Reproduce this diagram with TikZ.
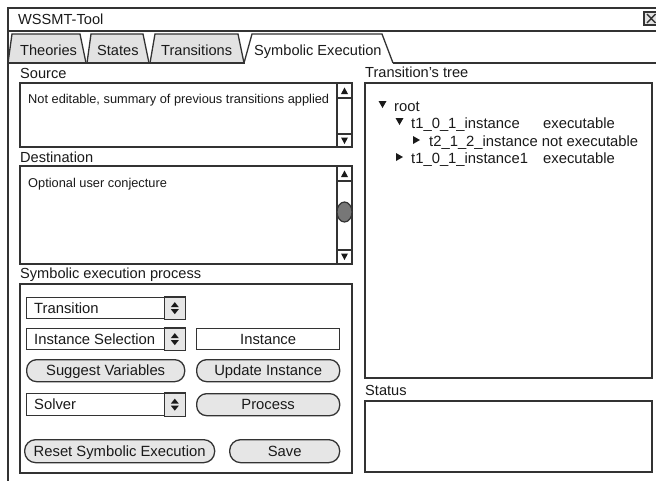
\documentclass[tikz,border=0pt]{standalone}
\usepackage{fontspec}
\setmainfont{Liberation Sans}
\definecolor{lc}{HTML}{333333}
\definecolor{tabgray}{HTML}{E2E2E2}
\definecolor{btngray}{HTML}{E6E6E6}
\definecolor{thumb}{HTML}{777777}
\definecolor{tc}{HTML}{1A1A1A}
\newcommand{\fsz}[1]{\fontsize{#1}{#1}\selectfont}
\begin{document}
\begin{tikzpicture}[x=1pt,y=-1pt,
  frame/.style={draw=lc,line width=1.6pt},
  box/.style={draw=lc,line width=1.4pt},
  lbl/.style={anchor=base west,inner sep=0pt,text=tc,font=\fsz{14.6}},
  smalltxt/.style={anchor=base west,inner sep=0pt,text=tc,font=\fsz{12.8}},
  treetxt/.style={anchor=base west,inner sep=0pt,text=tc,font=\fsz{14.8}},
  tabshape/.style={draw=lc,line width=1.3pt,fill=tabgray},
  btn/.style={draw=lc,line width=1.3pt,fill=btngray,rounded corners=10pt,inner sep=0pt,
     text height=10.6pt,text depth=0pt,text=tc,font=\fsz{14.8}},
  field/.style={draw=lc,line width=1.3pt,fill=white,inner sep=0pt,
     text height=10.6pt,text depth=0pt,text=tc,font=\fsz{14.8}},
  fieldtxt/.style={anchor=base west,inner sep=0pt,text=tc,font=\fsz{14.8}},
  tri/.style={fill=tc,draw=none}
]
\useasboundingbox (0,0) rectangle (656,480);
\fill[white] (0,0) rectangle (656,480);

% window frame and title bar
\draw[frame] (8,8) rectangle (672,31);
\draw[frame] (8,31) -- (8,492);
\node[lbl] (title) at (18,24.5) {WSSMT-Tool};
\draw[line width=1.2pt,draw=lc,fill=tabgray] (644,12) rectangle (662,25);
\draw[line width=1.4pt,draw=lc] (647,14) -- (655.5,23) (647,23) -- (655.5,14);

% tabs
\draw[tabshape] (8,63) -- (12,34) -- (80,34) -- (86,63);
\draw[tabshape] (87,63) -- (91,34) -- (143,34) -- (149,63);
\draw[tabshape] (150,63) -- (155,34) -- (238,34) -- (244,63);
\draw[draw=lc,line width=1.3pt] (244,63) -- (252,34) -- (382,34) -- (393,63);
\draw[frame] (8,63) -- (245,63) (393,63) -- (672,63);
\node[lbl] (tab1) at (20,55) {Theories};
\node[lbl] (tab2) at (97,55) {States};
\node[lbl] (tab3) at (161,55) {Transitions};
\node[lbl] (tab4) at (254,55) {Symbolic Execution};

% left column labels
\node[lbl] (srclbl) at (20,78) {Source};
\node[lbl] (dstlbl) at (20,162) {Destination};
\node[lbl] (proclbl) at (20,278) {Symbolic execution process};

% source box
\draw[box] (20,83) rectangle (352,147);
\draw[box] (337,83) -- (337,147);
\draw[box] (337,98) -- (352,98) (337,134) -- (352,134);
\fill[tri] (341,94) -- (348,94) -- (344.5,87.5) -- cycle;
\fill[tri] (341,137.5) -- (348,137.5) -- (344.5,144) -- cycle;
\node[smalltxt] (srctxt) at (28,103) {Not editable, summary of previous transitions applied};

% destination box
\draw[box] (20,166) rectangle (352,264);
\draw[box] (337,166) -- (337,264);
\draw[box] (337,181) -- (352,181) (337,250) -- (352,250);
\fill[tri] (341,177) -- (348,177) -- (344.5,170.5) -- cycle;
\fill[tri] (341,253.5) -- (348,253.5) -- (344.5,260) -- cycle;
\draw[line width=1.2pt,draw=lc,fill=thumb] (344.5,212) ellipse [x radius=7.5pt,y radius=10pt];
\node[smalltxt] (dsttxt) at (28,187) {Optional user conjecture};

% process box
\draw[box] (20,284) rectangle (352,473);

% combos
\node[field,minimum width=158pt,minimum height=21pt,anchor=north west] (cmbTrans) at (26,297) {};
\node[field,minimum width=158pt,minimum height=21pt,anchor=north west] (cmbInst) at (26,328) {};
\node[field,minimum width=158pt,minimum height=22pt,anchor=north west] (cmbSolv) at (26,393) {};
\node[fieldtxt] (cmbTransTxt) at (34,313) {Transition};
\node[fieldtxt] (cmbInstTxt) at (34,344) {Instance Selection};
\node[fieldtxt] (cmbSolvTxt) at (34,409) {Solver};
\foreach \n in {cmbTrans,cmbInst,cmbSolv}{
  \draw[line width=1.3pt,draw=lc,fill=btngray] ([xshift=-21pt]\n.north east) rectangle (\n.south east);
  \fill[tri] ([xshift=-14.5pt,yshift=-1pt]\n.center -| \n.east) -- ([xshift=-6.5pt,yshift=-1pt]\n.center -| \n.east) -- ([xshift=-10.5pt,yshift=-6pt]\n.center -| \n.east) -- cycle;
  \fill[tri] ([xshift=-14.5pt,yshift=1pt]\n.center -| \n.east) -- ([xshift=-6.5pt,yshift=1pt]\n.center -| \n.east) -- ([xshift=-10.5pt,yshift=6pt]\n.center -| \n.east) -- cycle;
}

% instance field
\node[field,minimum width=143pt,minimum height=21pt,anchor=north west] (instfield) at (196,328) {Instance};

% buttons
\node[btn,minimum width=158pt,minimum height=22pt,anchor=north west] (bSuggest) at (26,359) {Suggest Variables};
\node[btn,minimum width=143pt,minimum height=22pt,anchor=north west] (bUpdate) at (196,359) {Update Instance};
\node[btn,minimum width=143pt,minimum height=22pt,anchor=north west] (bProcess) at (196,393) {Process};
\node[btn,minimum width=190pt,minimum height=23pt,anchor=north west,rounded corners=11pt] (bReset) at (24,439) {Reset Symbolic Execution};
\node[btn,minimum width=110pt,minimum height=23pt,anchor=north west,rounded corners=11pt] (bSave) at (229,439) {Save};

% right column
\node[lbl] (treelbl) at (365,77) {Transition's tree};
\draw[box] (365,83) rectangle (652,378);
\node[lbl] (statlbl) at (365,395) {Status};
\draw[box] (365,401) rectangle (652,472);

% tree
\fill[tri] (378.5,101) -- (386.5,101) -- (382.5,108) -- cycle;
\node[treetxt] (root) at (394,111) {root};
\fill[tri] (395.5,118) -- (403.5,118) -- (399.5,125) -- cycle;
\node[treetxt] (t1) at (411,128) {t1\_0\_1\_instance};
\node[treetxt] (t1e) at (543,128) {executable};
\fill[tri] (413,136) -- (413,144) -- (420,140) -- cycle;
\node[treetxt] (t2) at (429,146) {t2\_1\_2\_instance not executable};
\fill[tri] (396,153) -- (396,161) -- (403,157) -- cycle;
\node[treetxt] (t3) at (411,163) {t1\_0\_1\_instance1};
\node[treetxt] (t3e) at (543,163) {executable};
\end{tikzpicture}
\end{document}
